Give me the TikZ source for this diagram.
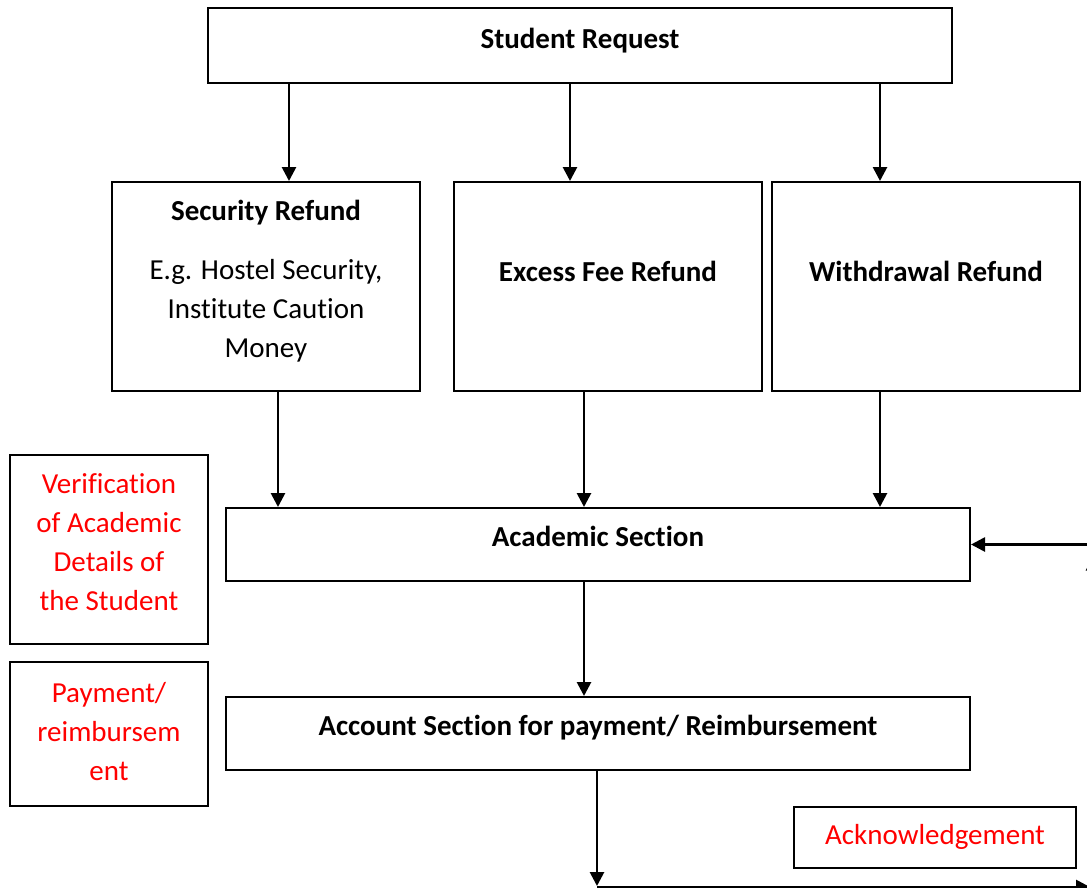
\documentclass[tikz,border=0pt]{standalone}
\usepackage{fontspec}
\setmainfont[Ligatures=NoCommon]{Carlito}
\usetikzlibrary{positioning}
\usetikzlibrary{calc}
\usetikzlibrary{arrows.meta}
\tikzset{
    box/.style = {rectangle, draw=black, line width=1pt, align=center, inner sep=0pt, text depth=7.5pt},
    boxr/.style = {box, text=red},
    edgen/.style = {-{Triangle[length=7pt,width=7pt]}, line width=1.35pt},
}
\newcommand{\T}[1]{\textbf{#1}}

\begin{document}
\begin{tikzpicture}[x=0.5pt,y=-0.5pt,font=\fontsize{14.5}{19.5}\selectfont]
\useasboundingbox (0,0) rectangle (1087,888);
\clip (0,0) rectangle (1087,888);
\node[box, minimum width=372pt, minimum height=37.5pt] at (580,45.5) (req) {\T{Student Request}};
\node[box, minimum width=154pt, minimum height=104.5pt] at (266,286.5) (sec) {\T{Security Refund}\\[10pt]E.g. Hostel Security,\\Institute Caution\\Money};
\node[box, minimum width=154pt, minimum height=104.5pt, text depth=15pt] at (608,286.5) (exc) {\T{Excess Fee Refund}};
\node[box, minimum width=154pt, minimum height=104.5pt, text depth=15pt] at (926,286.5) (wdr) {\T{Withdrawal Refund}};
\node[box, minimum width=372pt, minimum height=36.5pt, text depth=8pt] at (598,544.5) (acad) {\T{Academic Section}};
\node[box, minimum width=372pt, minimum height=36.5pt, text depth=8pt] at (598,733.5) (acct) {\T{Account Section for payment/ Reimbursement}};
\node[boxr, minimum width=99pt, minimum height=94.5pt, text depth=7pt] at (109,549.5) (ver) {Verification\\of Academic\\Details of\\the Student};
\node[boxr, minimum width=99pt, minimum height=72pt, text depth=3pt] at (109,734) (pay) {Payment/\\reimbursem\\ent};
\node[boxr, minimum width=141pt, minimum height=30.5pt, text depth=3pt] at (935,837.5) (ack) {Acknowledgement};
%
\draw[edgen] ($(req.south -| sec.north)+(23,0)$) -- ($(sec.north)+(23,0)$);
\draw[edgen] ($(req.south -| exc.north)+(-38,0)$) -- ($(exc.north)+(-38,0)$);
\draw[edgen] ($(req.south -| wdr.north)+(-46,0)$) -- ($(wdr.north)+(-46,0)$);
\draw[edgen] ($(sec.south)+(12,0)$) -- ($(acad.north -| sec.south)+(12,0)$);
\draw[edgen] ($(exc.south)+(-24,0)$) -- ($(acad.north -| exc.south)+(-24,0)$);
\draw[edgen] ($(wdr.south)+(-46,0)$) -- ($(acad.north -| wdr.south)+(-46,0)$);
\draw[edgen] ($(acad.south)+(-14,0)$) -- ($(acct.north)+(-14,0)$);
\draw[edgen] ($(acct.south)+(-1,0)$) -- ($(acct.south)+(-1,115)$);
\draw[edgen] ($(acct.south)+(-1,116)$) -- ($(acct.south)+(492,116)$);
\draw[edgen] ($(acad.east)+(122,330)$) -- ($(acad.east)+(122,12)$);
\draw[edgen] ($(acad.east)+(140,0)$) -- (acad.east);
\end{tikzpicture}
\end{document}
